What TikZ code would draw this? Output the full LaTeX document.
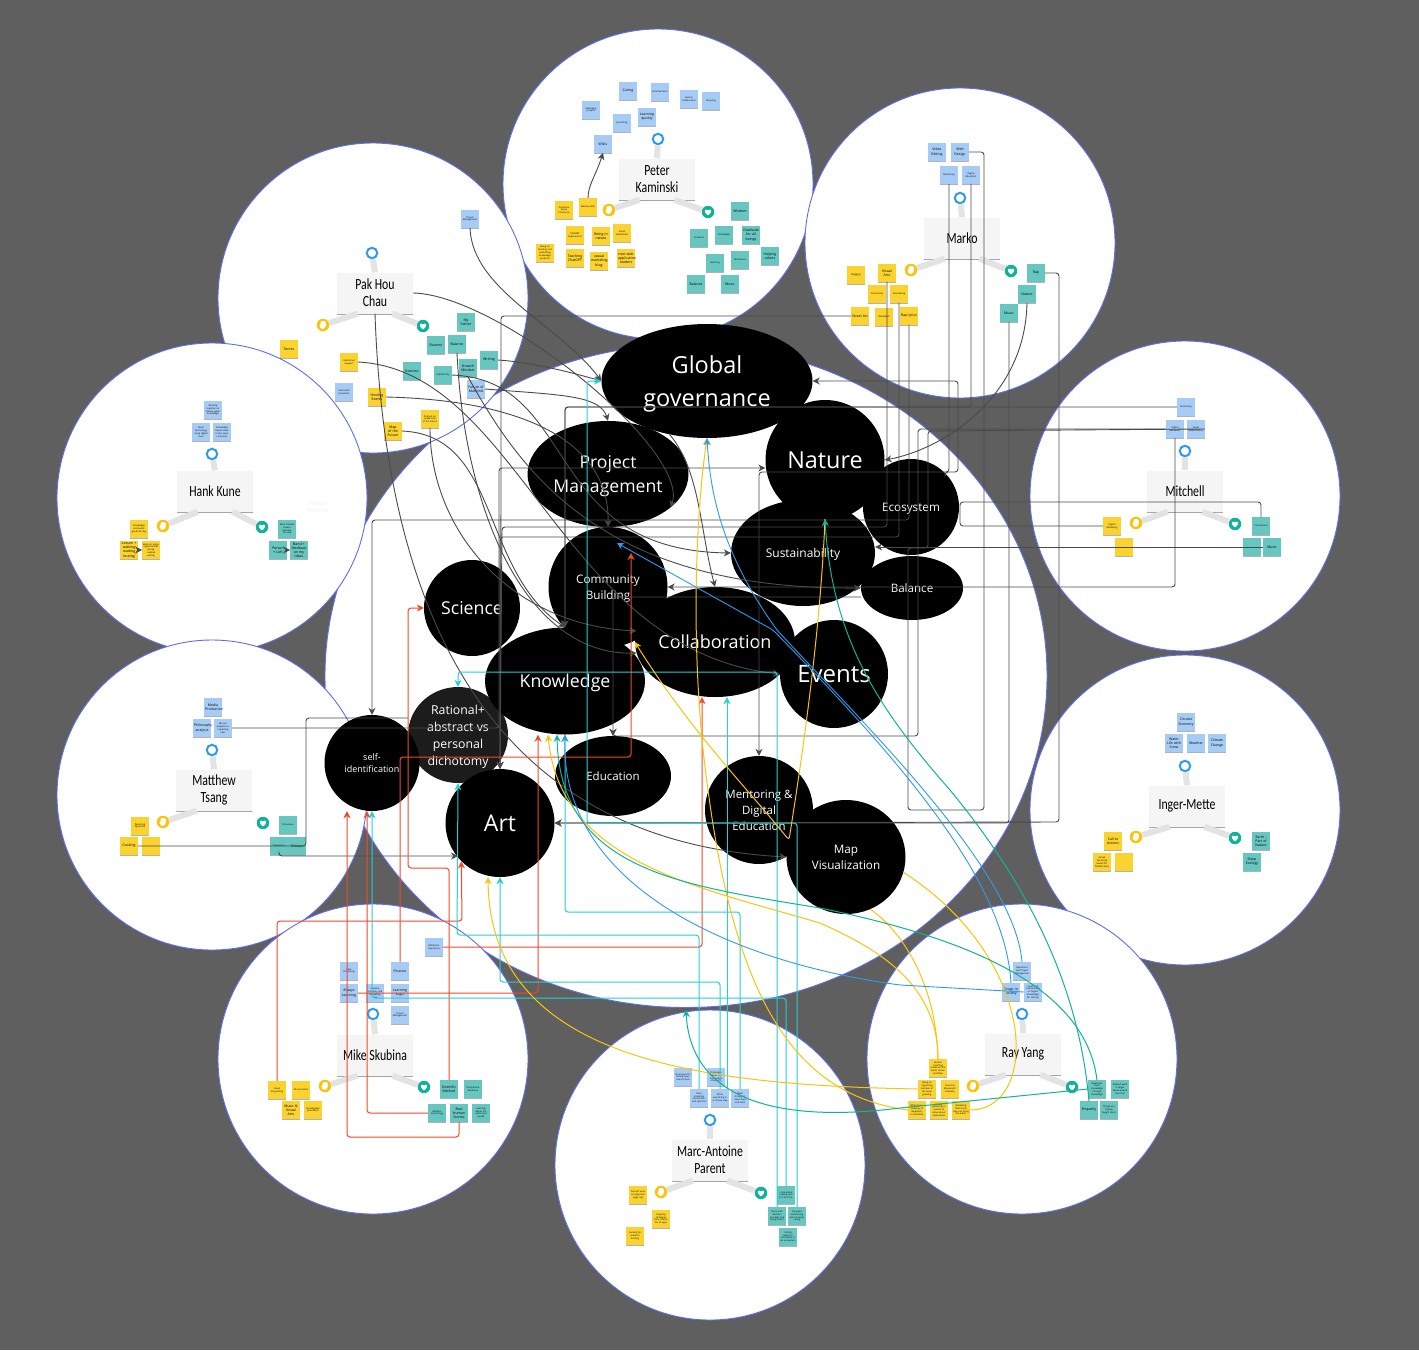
\documentclass[tikz,border=0pt]{standalone}
\usepackage{fontspec}
\setmainfont{Open Sans}
\newfontfamily\namefont[FakeStretch=0.76]{Carlito}
\usetikzlibrary{arrows.meta,calc,shadows,shapes.geometric}
\definecolor{canvasgrey}{HTML}{5F5F5F}
\definecolor{petalblue}{HTML}{5B6EF0}
\definecolor{noteblue}{HTML}{A6CCF5}
\definecolor{noteyellow}{HTML}{FAD330}
\definecolor{noteteal}{HTML}{67C6C0}
\definecolor{darkwire}{HTML}{4A4A4A}
\definecolor{redwire}{HTML}{F2492A}
\definecolor{cyanwire}{HTML}{22D0D6}
\definecolor{goldwire}{HTML}{FCC30B}
\definecolor{greenwire}{HTML}{11B398}
\definecolor{bluewire}{HTML}{2E9BF0}
\newcommand{\notesize}{\fontsize{3.5}{4.2}\selectfont\hyphenpenalty=10000\exhyphenpenalty=10000 }
\newcommand{\finesize}{\fontsize{2.3}{2.8}\selectfont\hyphenpenalty=10000\exhyphenpenalty=10000 }
\tikzset{
  petal/.style={circle,minimum size=310pt,inner sep=0pt,fill=white,draw=petalblue,line width=.9pt},
  sticky/.style={minimum size=17.4pt,text width=15.8pt,inner sep=.8pt,align=center,font=\notesize,
    drop shadow={shadow xshift=0pt,shadow yshift=-1pt,opacity=.3,fill=black}},
  bluenote/.style={sticky,fill=noteblue},
  yellownote/.style={sticky,fill=noteyellow},
  tealnote/.style={sticky,fill=noteteal},
  fine/.style={font=\finesize},
  card/.style={minimum width=76pt,minimum height=41pt,inner sep=0pt,fill=black!4,align=center,
    font=\namefont\fontsize{15.5}{17}\selectfont,
    drop shadow={shadow xshift=0pt,shadow yshift=-1.2pt,opacity=.35,fill=black}},
  stalk/.style={draw=black!11,line width=6pt},
  headicon/.style={circle,minimum size=10.5pt,inner sep=0pt,fill=white,draw=bluewire,line width=2pt},
  handicon/.style={circle,minimum size=12.5pt,inner sep=0pt,fill=goldwire,path picture={
    \begin{scope}[shift={(path picture bounding box.center)}]
      \fill[white,rounded corners=1pt] (-2.4,-3.8) -- (2.6,-3.8) -- (3,1) -- (1,3.8) -- (-1.8,3.8) -- (-4,0.6) -- (-2.4,0) -- cycle;
    \end{scope}}},
  hearticon/.style={circle,minimum size=12.5pt,inner sep=0pt,fill=greenwire,path picture={
    \begin{scope}[shift={(path picture bounding box.center)}]
      \fill[white] (0,3.4) .. controls (-5.4,-0.6) and (-3,-4) .. (0,-1.6) .. controls (3,-4) and (5.4,-0.6) .. (0,3.4) -- cycle;
    \end{scope}}},
  topic/.style={ellipse,inner sep=0pt,fill=black,text=white,align=center,text depth=0pt},
  wire/.style={line width=1pt,rounded corners=3pt,-{Stealth[length=7pt,width=7pt]}},
  plainwire/.style={line width=.9pt,rounded corners=3pt,draw=darkwire},
  redline/.style={wire,draw=redwire},
  cyanline/.style={wire,draw=cyanwire},
  goldline/.style={wire,draw=goldwire},
  greenline/.style={wire,draw=greenwire},
  blueline/.style={wire,draw=bluewire,line width=.9pt}
}
\begin{document}
\begin{tikzpicture}[x=1pt,y=-1pt]
  \useasboundingbox (0,0) rectangle (1419,1350);
  \fill[canvasgrey] (0,0) rectangle (1419,1350);

  % backdrop
  \node[ellipse,minimum width=722pt,minimum height=663pt,inner sep=0pt,fill=white,draw=petalblue,line width=.9pt] (hub) at (686,676) {};
  \node[petal] (peterpetal) at (658,184) {};
  \node[petal] (pakpetal) at (373,298) {};
  \node[petal] (markopetal) at (960,243) {};
  \node[petal] (hankpetal) at (212,498) {};
  \node[petal] (mitchellpetal) at (1185,496) {};
  \node[petal] (matthewpetal) at (212,795) {};
  \node[petal] (ingerpetal) at (1185,810) {};
  \node[petal] (mikepetal) at (373,1059) {};
  \node[petal] (marcpetal) at (710,1165) {};
  \node[petal] (raypetal) at (1022,1059) {};

  % person cards
  \node[card] (peter) at (657,179) {Peter\\Kaminski};
  \node[headicon] (peterhead) at (658,139) {};
  \node[handicon] (peterhand) at (609,210) {};
  \node[hearticon] (peterheart) at (708,212) {};
  \node[card] (marko) at (962,238) {Marko};
  \node[headicon] (markohead) at (960,198) {};
  \node[handicon] (markohand) at (911,270) {};
  \node[hearticon] (markoheart) at (1011,271) {};
  \node[card] (pak) at (375,293) {Pak Hou\\Chau};
  \node[headicon] (pakhead) at (372,253) {};
  \node[handicon] (pakhand) at (323,325) {};
  \node[hearticon] (pakheart) at (423,326) {};
  \node[card] (hank) at (215,491) {Hank Kune};
  \node[headicon] (hankhead) at (212,454) {};
  \node[handicon] (hankhand) at (163,526) {};
  \node[hearticon] (hankheart) at (262,527) {};
  \node[card] (mitchell) at (1185,491) {Mitchell};
  \node[headicon] (mitchellhead) at (1185,451) {};
  \node[handicon] (mitchellhand) at (1136,523) {};
  \node[hearticon] (mitchellheart) at (1235,524) {};
  \node[card] (matthew) at (214,790) {Matthew\\Tsang};
  \node[headicon] (matthewhead) at (212,750) {};
  \node[handicon] (matthewhand) at (163,822) {};
  \node[hearticon] (matthewheart) at (263,823) {};
  \node[card] (inger) at (1187,806) {Inger-Mette};
  \node[headicon] (ingerhead) at (1185,766) {};
  \node[handicon] (ingerhand) at (1136,837) {};
  \node[hearticon] (ingerheart) at (1235,838) {};
  \node[card] (mike) at (375,1055) {Mike Skubina};
  \node[headicon] (mikehead) at (373,1014) {};
  \node[handicon] (mikehand) at (325,1086) {};
  \node[hearticon] (mikeheart) at (424,1087) {};
  \node[card] (marc) at (710,1160) {Marc-Antoine\\Parent};
  \node[headicon] (marchead) at (710,1120) {};
  \node[handicon] (marchand) at (661,1192) {};
  \node[hearticon] (marcheart) at (761,1193) {};
  \node[card] (ray) at (1023,1054) {Ray Yang};
  \node[headicon] (rayhead) at (1022,1014) {};
  \node[handicon] (rayhand) at (973,1086) {};
  \node[hearticon] (rayheart) at (1072,1087) {};
  \begin{scope}[stalk]
    \draw (peter.north) -- (peterhead); \draw (peter.230) -- (peterhand); \draw (peter.-50) -- (peterheart);
    \draw (marko.north) -- (markohead); \draw (marko.230) -- (markohand); \draw (marko.-50) -- (markoheart);
    \draw (pak.north) -- (pakhead); \draw (pak.230) -- (pakhand); \draw (pak.-50) -- (pakheart);
    \draw (hank.north) -- (hankhead); \draw (hank.230) -- (hankhand); \draw (hank.-50) -- (hankheart);
    \draw (mitchell.north) -- (mitchellhead); \draw (mitchell.230) -- (mitchellhand); \draw (mitchell.-50) -- (mitchellheart);
    \draw (matthew.north) -- (matthewhead); \draw (matthew.230) -- (matthewhand);
    \draw (inger.north) -- (ingerhead); \draw (inger.230) -- (ingerhand); \draw (inger.-50) -- (ingerheart);
    \draw (mike.north) -- (mikehead); \draw (mike.230) -- (mikehand); \draw (mike.-50) -- (mikeheart);
    \draw (marc.north) -- (marchead); \draw (marc.230) -- (marchand); \draw (marc.-50) -- (marcheart);
    \draw (ray.north) -- (rayhead); \draw (ray.230) -- (rayhand); \draw (ray.-50) -- (rayheart);
  \end{scope}

  % Peter notes
  \node[bluenote] (pb1) at (628,91) {Caring};
  \node[bluenote,fine] (pb2) at (660,92) {Entertainment};
  \node[bluenote,fine] (pb3) at (689,99) {Human collaboration};
  \node[bluenote,fine] (pb4) at (711,101) {Recycling};
  \node[bluenote,fine] (pb5) at (591,110) {Managing projects};
  \node[bluenote,fine] (pb6) at (622,123) {Journaling};
  \node[bluenote] (pb7) at (647,117) {Learning quickly};
  \node[bluenote] (wikis) at (603,144) {Wikis};
  \node[yellownote,fine] (py1) at (564,210) {Collective Sense Commons};
  \node[yellownote,fine] (massive) at (588,207) {Massive Wiki};
  \node[yellownote,fine] (py2) at (575,235) {ChatGPT Experiments};
  \node[yellownote] (py3) at (601,236) {Being in nature};
  \node[yellownote,fine] (py4) at (622,233) {Email newsletters};
  \node[yellownote,fine] (py5) at (545,253) {Being on meeting and publishing knowledge products};
  \node[yellownote] (py6) at (575,258) {Teaching ChatGPT};
  \node[yellownote] (py7) at (599,261) {casual marketing blog};
  \node[yellownote] (py8) at (626,258) {next web application readers};
  \node[tealnote] (pt1) at (740,211) {Wisdom};
  \node[tealnote,fine] (pt2) at (699,238) {Kindness};
  \node[tealnote,fine] (pt3) at (724,235) {Knowledge};
  \node[tealnote] (pt4) at (751,235) {Gratitude for all beings};
  \node[tealnote,fine] (pt5) at (715,263) {Harmony};
  \node[tealnote,fine] (pt6) at (740,260) {Wholeness};
  \node[tealnote] (pt7) at (770,256) {Helping others};
  \node[tealnote] (pt8) at (696,284) {Balance};
  \node[tealnote] (pt9) at (730,284) {Music};

  % Marko notes
  \node[bluenote] (mkb1) at (937,152) {Video Editing};
  \node[bluenote] (webdesign) at (960,152) {Web Design};
  \node[bluenote,fine] (mkmentoring) at (949,175) {Mentoring};
  \node[bluenote,fine] (mkdigital) at (971,175) {Digital Education};
  \node[yellownote,fine] (mky1) at (856,275) {Blogging};
  \node[yellownote] (visualarts) at (887,273) {Visual Arts};
  \node[yellownote,fine] (mky2) at (877,294) {Community};
  \node[yellownote,fine] (filmmaking) at (899,294) {Filmmaking};
  \node[yellownote] (streetart) at (860,316) {Street Art};
  \node[yellownote,fine] (mky3) at (884,317) {Basketball};
  \node[yellownote] (raplyrics) at (909,316) {Rap lyrics};
  \node[tealnote] (rapnote) at (1036,273) {Rap};
  \node[tealnote] (naturenote) at (1027,294) {Nature};
  \node[tealnote] (mkmusic) at (1009,313) {Music};

  % Pak Hou notes
  \node[bluenote,fine] (pmnote) at (470,219) {Project Management};
  \node[bluenote,fine] (pkb1) at (344,392) {Existential Questions};
  \node[bluenote] (future) at (476,389) {Future of Mankind};
  \node[yellownote] (tennis) at (289,349) {Tennis};
  \node[yellownote,fine] (emotional) at (349,362) {Emotional Support};
  \node[yellownote] (hosting) at (377,397) {Hosting Events};
  \node[yellownote] (mapfuture) at (393,431) {Map of the Future};
  \node[yellownote,fine] (podcast) at (430,419) {Podcast on Leadership of the Future};
  \node[tealnote] (myfather) at (466,322) {My Father};
  \node[tealnote] (pkt1) at (436,345) {Routine};
  \node[tealnote] (balancenote) at (457,344) {Balance};
  \node[tealnote] (writing) at (489,360) {Writing};
  \node[tealnote] (pkt2) at (412,371) {Exercise};
  \node[tealnote,fine] (authenticity) at (443,375) {Authenticity};
  \node[tealnote] (growth) at (468,368) {Growth Mindset};

  % Hank notes
  \node[bluenote,fine] (hb1) at (213,410) {Working together on shared public knowledge};
  \node[bluenote,fine] (hb2) at (201,432) {Team Technology using digital tools};
  \node[bluenote,fine] (hb3) at (222,432) {Knowledge based ideas in the open commons};
  \node[yellownote,fine] (hy1) at (139,529) {Knowledge and public goods all day};
  \node[yellownote] (hy2) at (129,550) {Lesson + walking reading routing};
  \node[yellownote,fine] (hy3) at (151,550) {Book on many opportunities during creative writing};
  \node[tealnote,fine] (ht1) at (287,529) {Most trusted means learning the day};
  \node[tealnote] (ht2) at (278,550) {Person + Loft};
  \node[tealnote] (ht3) at (299,550) {Band + feedback on my ideas};
  \node[text=black!6,align=center,font=\fontsize{5.5}{7}\selectfont] (formatnote) at (318,508) {Format\\Together};

  % Mitchell notes
  \node[bluenote,fine] (mitmentoring) at (1186,407) {Mentoring};
  \node[bluenote,fine] (mitdigital) at (1175,429) {Digital Education};
  \node[bluenote,fine] (social) at (1196,429) {Social Responsibility};
  \node[yellownote,fine] (marketing) at (1112,526) {Digital Marketing};
  \node[yellownote] (mity1) at (1124,547) {};
  \node[tealnote,fine] (connections) at (1261,526) {Connections};
  \node[tealnote] (mitt1) at (1252,547) {};
  \node[tealnote] (mitmusic) at (1272,547) {Music};

  % Inger-Mette notes
  \node[bluenote] (ib1) at (1186,722) {Circular Economy};
  \node[bluenote] (ib2) at (1174,743) {Water Life with Snow};
  \node[bluenote] (ib3) at (1196,743) {Weather};
  \node[bluenote] (ib4) at (1217,743) {Climate Change};
  \node[yellownote] (iy1) at (1113,841) {Call to Actions};
  \node[yellownote,fine] (iy2) at (1102,862) {Actual Venturing Model for Collaboration};
  \node[yellownote] (iy3) at (1124,862) {};
  \node[tealnote] (it1) at (1261,841) {Earth - Part of Nature};
  \node[tealnote] (it2) at (1252,862) {Deep Ecology};

  % Matthew notes
  \node[bluenote] (mtb1) at (213,707) {Media Production};
  \node[bluenote] (mtb2) at (202,728) {Philosophy analysis};
  \node[bluenote,fine] (powerful) at (223,728) {We are powerful in impacting lives};
  \node[yellownote,fine] (mty1) at (140,826) {Parenting Dynamics};
  \node[yellownote] (cooking) at (129,846) {Cooking};
  \node[yellownote] (mty2) at (151,846) {};
  \node[tealnote,fine] (mtt1) at (288,825) {Consensus};
  \node[tealnote,fine] (mtt2) at (279,846) {Discussion};
  \node[tealnote] (debate) at (297,846) {Debate};

  % Mike notes
  \node[bluenote,fine] (mib1) at (349,971) {Data Processing};
  \node[bluenote] (always) at (349,993) {Always Learning};
  \node[bluenote,fine] (mib2) at (375,993) {Creative Economy and Marketing Data};
  \node[bluenote] (finance) at (400,971) {Finance};
  \node[bluenote] (logic) at (400,993) {Learning Logic};
  \node[bluenote,fine] (mib3) at (400,1015) {Project Management};
  \node[bluenote,fine] (reflection) at (434,947) {Reflection Operations};
  \node[yellownote,fine] (story) at (277,1090) {Visual Storytelling};
  \node[yellownote,fine] (miy1) at (301,1090) {3D animation};
  \node[yellownote] (miy2) at (291,1110) {Music \& Visual Arts};
  \node[yellownote,fine] (miy3) at (313,1110) {Investigative journalism};
  \node[tealnote] (scimethod) at (449,1089) {Scientific Method};
  \node[tealnote,fine] (mit1) at (473,1089) {Discipline \& Resiliency};
  \node[tealnote,fine] (western) at (437,1113) {Western Psychology};
  \node[tealnote] (humans) at (459,1113) {Real Human Stories};
  \node[tealnote,fine] (mit2) at (481,1113) {Learning about the world and myself};

  % Marc-Antoine notes
  \node[bluenote,fine] (mab1) at (683,1077) {Prototypes for lasting open source tools};
  \node[bluenote,fine] (mab2) at (716,1077) {Challenges about the knowledge of experts};
  \node[bluenote,fine] (mab3) at (699,1098) {Data modeling abstraction and specifics};
  \node[bluenote,fine] (mab4) at (720,1098) {Write everything in a concise way};
  \node[bluenote,fine] (mab5) at (740,1098) {Weak strategies, small steps and wins};
  \node[yellownote,fine] (may1) at (638,1195) {Current work on hypertext page rdg};
  \node[yellownote,fine] (may2) at (661,1219) {Ongoing strategies from scratch for all ages};
  \node[yellownote,fine] (may3) at (635,1236) {Looking for research funding};
  \node[tealnote,fine] (mat1) at (786,1195) {I care about making care for all to be};
  \node[tealnote,fine] (mat2) at (777,1216) {Gone with abstract concepts and being brand};
  \node[tealnote,fine] (mat3) at (797,1216) {Shy gains networking and sincerely caring};
  \node[tealnote,fine] (mat4) at (788,1237) {Strong desire to contribute in an ecosystem};

  % Ray notes
  \node[bluenote,fine] (rb1) at (1022,971) {Operations and Project Management};
  \node[bluenote] (drugs) at (1011,992) {Drugs in society};
  \node[bluenote,fine] (rb2) at (1033,992) {Small and interpretable or largest knowledge for startup};
  \node[yellownote,fine] (ry1) at (938,1068) {Human coaching model on the basis, career and flow};
  \node[yellownote,fine] (ry2) at (927,1089) {Being an organizing member of the team growing};
  \node[yellownote,fine] (ry3) at (950,1089) {Exercise! Movement! Empathy};
  \node[yellownote,fine] (ry4) at (917,1110) {White-Space Drawing of Biography or Narrative};
  \node[yellownote,fine] (ry5) at (939,1110) {Ideally gathering in a place to know about implications};
  \node[yellownote,fine] (ry6) at (961,1110) {Marketing Skills tools who can bring the public};
  \node[tealnote,fine] (rt1) at (1097,1089) {Relational Field Knowledge Through Knowledge};
  \node[tealnote,fine] (rt2) at (1120,1089) {Related work in larger fields around the trust};
  \node[tealnote] (empathy) at (1089,1110) {Empathy};
  \node[tealnote,fine] (rt3) at (1109,1110) {Things are Paving taught more};

  % topics
  \node[topic,minimum width=100pt,minimum height=96pt,fill=black!89,font=\fontsize{12.3}{17}\selectfont] (rational) at (458,735) {Rational+\\abstract vs\\personal\\dichotomy};
  \node[topic,minimum width=211pt,minimum height=114pt,font=\fontsize{23.5}{33}\selectfont] (gov) at (707,381) {Global\\governance};
  \node[topic,minimum width=161pt,minimum height=106pt,font=\fontsize{17.6}{24}\selectfont] (pm) at (608,474) {Project\\Management};
  \node[topic,minimum width=119pt,minimum height=120pt,font=\fontsize{23.4}{28}\selectfont] (nature) at (825,460) {Nature};
  \node[topic,minimum width=96pt,minimum height=96pt,font=\fontsize{11.7}{14}\selectfont] (ecosystem) at (911,507) {Ecosystem};
  \node[topic,minimum width=144pt,minimum height=106pt,font=\fontsize{12}{15}\selectfont] (sust) at (803,553) {Sustainability};
  \node[topic,minimum width=102pt,minimum height=64pt,font=\fontsize{11.6}{14}\selectfont] (balance) at (912,588) {Balance};
  \node[topic,minimum width=119pt,minimum height=120pt,font=\fontsize{11.7}{16}\selectfont] (community) at (608,587) {Community\\Building};
  \node[topic,minimum width=160pt,minimum height=110pt,font=\fontsize{18}{22}\selectfont] (collab) at (715,642) {Collaboration};
  \node[topic,minimum width=108pt,minimum height=108pt,font=\fontsize{24}{28}\selectfont] (events) at (834,674) {Events};
  \node[topic,minimum width=96pt,minimum height=96pt,font=\fontsize{17.7}{21}\selectfont] (science) at (472,608) {Science};
  \node[topic,minimum width=160pt,minimum height=107pt,font=\fontsize{17.7}{21}\selectfont] (knowledge) at (565,681) {Knowledge};
  \node[topic,minimum width=95pt,minimum height=96pt,font=\fontsize{9}{12.5}\selectfont] (selfid) at (372,763) {self-\\identification};
  \node[topic,minimum width=109pt,minimum height=108pt,font=\fontsize{23}{27}\selectfont] (art) at (500,823) {Art};
  \node[topic,minimum width=116pt,minimum height=80pt,font=\fontsize{11.5}{14}\selectfont] (education) at (613,776) {Education};
  \node[topic,minimum width=108pt,minimum height=108pt,font=\fontsize{11.5}{16}\selectfont] (mentoring) at (759,810) {Mentoring \&\\Digital\\Education};
  \node[topic,minimum width=119pt,minimum height=114pt,font=\fontsize{11.7}{16}\selectfont] (mapviz) at (846,857) {Map\\Visualization};

  % dark curves
  \begin{scope}[wire,draw=darkwire,line width=.9pt]
    \draw (massive.north) .. controls (588,185) and (596,175) .. (wikis.south);
    \draw (hy2) -- (hy3);
    \draw (ht2) -- (ht3);
    \draw (pmnote.south) .. controls (472,290) and (560,325) .. (gov.west);
    \draw (pak.east) .. controls (500,295) and (690,450) .. (pm.-28);
    \draw (writing.east) .. controls (530,362) and (570,372) .. (gov.west);
    \draw (future.east) .. controls (560,395) and (600,395) .. (pm.north);
    \draw (pak.south) .. controls (385,600) and (480,840) .. (mapviz.west);
    \draw (emotional.east) .. controls (520,370) and (560,650) .. (events.west);
    \draw (growth.south) .. controls (520,470) and (600,590) .. (balance.west);
    \draw (authenticity.east) .. controls (580,380) and (540,550) .. (sust.west);
    \draw (hosting.east) .. controls (520,400) and (610,440) .. (community.north);
    \draw (podcast.south) .. controls (430,530) and (510,625) .. (collab.172);
    \draw (mapfuture.east) .. controls (500,435) and (480,570) .. (knowledge.north);
    \draw (balancenote.south) .. controls (465,520) and (530,655) .. (collab.188);
    \draw (gov.235) .. controls (700,470) and (700,530) .. (collab.north);
    \draw (naturenote.south) .. controls (1025,400) and (940,450) .. (nature.east);
    % square routes
    \draw (streetart.west) -| (501,500) -- (art.north);
    \draw (visualarts.south) |- (502,527) -- (art.north);
    \draw (filmmaking.south) |- (500,537) -- (art.north);
    \draw (raplyrics.south) |- (372,520) -- (selfid.north);
    \draw (mkmentoring.south) |- (759,472) -- (mentoring.north);
    \draw (mkdigital.south) |- (565,407) -- (knowledge.north);
    \draw (rapnote.east) -| (1059,822) -- (art.east);
    \draw (mkmusic.south) |- (art.east);
    \draw (mitmentoring.west) -- (565,407) -- (knowledge.north);
    \draw (mitdigital.west) -| (918,736) -| (education.north);
    \draw (mitdigital.south) |- (community.east);
    \draw (mitmusic.west) -- (sust.east |- mitmusic.west);
    \draw (balance.west |- 0,597) -| (education.north);
    \draw (powerful.east) -| (499,468) -- (nature.west |- 0,468);
    \draw (mtt2.south) |- ($(art)+(-42,33)$);
    \draw (ecosystem.north east) |- (958,472) |- (gov.east);
  \end{scope}
  \draw[plainwire] (cooking.east) -| (306,718) -- (rational.west |- 0,718);
  \draw[plainwire] (webdesign.east) -| (984,810) -| (908,548) -| (928,431) -- (social.east);
  \draw[plainwire] (connections.north) |- (960,502) |- (marketing.west);

  % coloured routes
  \draw[redline] (story.north) |- (462,921) -- (art.south west);
  \draw[redline] (scimethod.north) |- (408,868) |- (science.west);
  \draw[redline] (finance.north) |- (631,757) -- ($(community)+(23,-34)$);
  \draw[redline] (always.east) -| (knowledge.south -| 538,0);
  \draw[redline] (reflection.east) -| (collab.south -| 702,0);
  \draw[redline] (humans.south) |- (347,1137) -- (selfid.south -| 347,0);
  \draw[redline] (western.west) -| (selfid.south -| 367,0);

  \draw[cyanline] (mat1.north) |- (372,998) -- (selfid.south -| 372,0);
  \draw[cyanline] (mab5.north) |- (565,912) -- (knowledge.south -| 565,0);
  \draw[cyanline] (mab3.north) |- (457,935) -- (rational.south);
  \draw[cyanline] (mab4.north) |- (500,982) -- (art.south);
  \draw[cyanline] (mab4.north) ++(7,0) -- (collab.south -| 727,0);
  \draw[cyanline] (mat2.north) |- (458,672) -- (rational.north);
  \draw[cyanline] (mat3.north) |- (587,823) |- (gov.west);

  \draw[goldline] (ry2.west) .. controls (700,1085) and (490,1060) .. (art.south -| 488,0);
  \draw[goldline] (ry1.north) .. controls (938,985) and (880,950) .. (820,923) .. controls (690,885) and (560,860) .. (knowledge.south -| 548,0);
  \draw[goldline] (ry4.west) .. controls (790,1095) and (735,990) .. (708,790) .. controls (690,660) and (695,520) .. (gov.south);
  \draw[goldline] ($(sust)+(22,-34)$) .. controls (820,640) and (800,770) .. (789,840) .. controls (740,780) and (690,730) .. (collab.west);
  \draw[goldline,-] (ry1.north) .. controls (936,980) and (900,930) .. (mapviz.-65);
  \draw[goldline,-] (ry6.east) .. controls (1040,1110) and (1040,960) .. (mapviz.-15);

  \draw[greenline] (rt1.north) .. controls (1085,980) and (950,935) .. (820,908) .. controls (680,885) and (560,870) .. (knowledge.south -| 557,0);
  \draw[greenline] (empathy.north) .. controls (1080,1000) and (1040,900) .. (950,790) .. controls (880,710) and (832,640) .. ($(sust)+(22,-34)$);
  \coordinate (marctop) at (686,1010);
  \draw[greenline] (rt1.west) -- (900,1108) .. controls (760,1125) and (690,1090) .. (marctop);

  \draw[blueline] (drugs.north) .. controls (1005,880) and (900,760) .. (773,630) -- ($(community)+(9,-44)$);
  \draw[blueline] (rb1.north) .. controls (1015,870) and (860,720) .. (777,630) .. controls (720,550) and (710,490) .. (gov.south);
  \draw[blueline] (rb2.west) -- (900,985) .. controls (720,960) and (560,880) .. (knowledge.south -| 565,0);
\end{tikzpicture}
\end{document}
